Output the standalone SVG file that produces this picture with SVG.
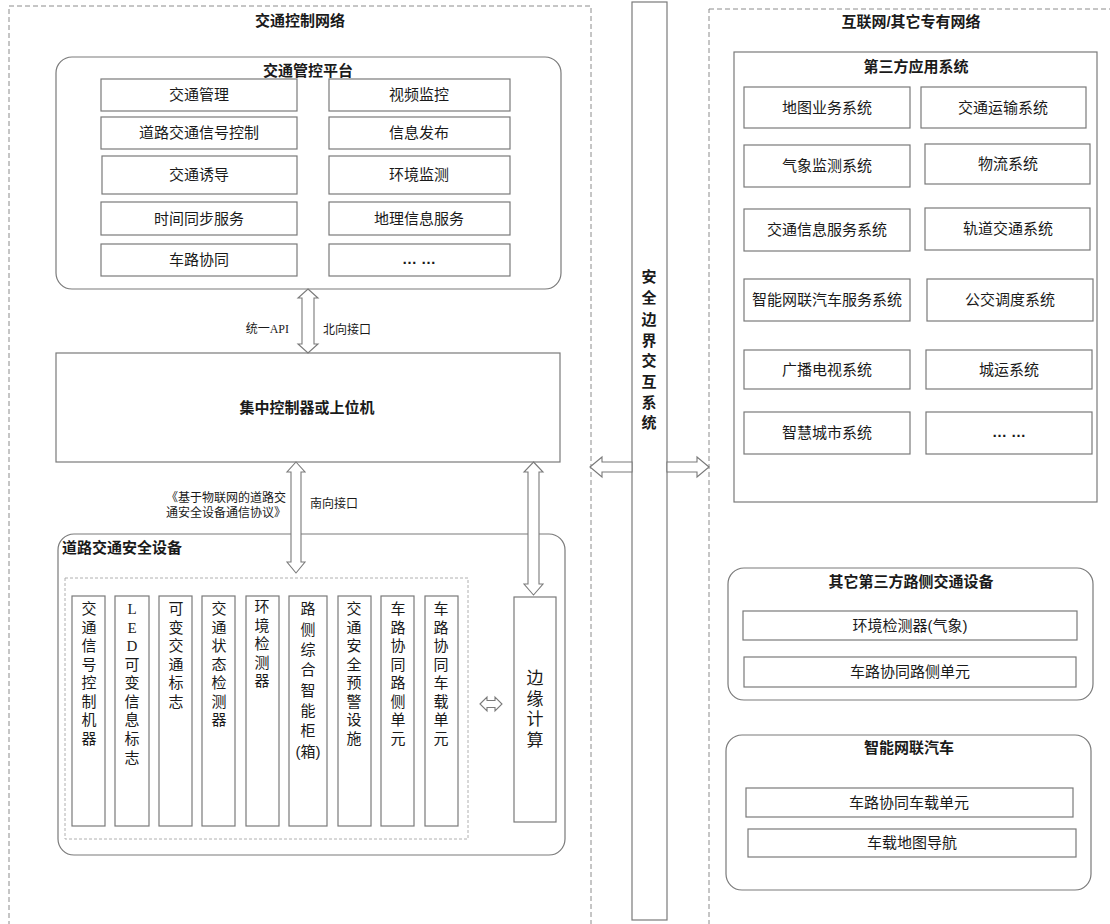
<svg xmlns="http://www.w3.org/2000/svg" width="1110" height="924" viewBox="0 0 1110 924">
<style>
text{font-family:"Liberation Sans","Noto Sans CJK SC",sans-serif;fill:#1a1a1a;font-size:15px}
.t{font-weight:bold;text-anchor:middle}
.c{text-anchor:middle}
.s{font-size:12px}
.serif{font-family:"Liberation Serif","Noto Sans CJK SC",serif}
.dash{fill:none;stroke:#8c8c8c;stroke-width:1;stroke-dasharray:5 3}
.dash2{fill:none;stroke:#b0b0b0;stroke-width:1;stroke-dasharray:3 2}
.box{fill:#fff;stroke:#7a7a7a;stroke-width:1.2}
.rbox{fill:#fff;stroke:#7a7a7a;stroke-width:1.2}
.arr{fill:#fff;stroke:#7a7a7a;stroke-width:1.1;stroke-linejoin:miter}
.v{font-size:15px;text-anchor:middle}
</style>
<rect width="1110" height="924" fill="#fff"/>

<g id="traffic-control-network">
<rect class="dash" x="9" y="6" width="582" height="930"/>
<text class="t" x="300" y="26">交通控制网络</text>
</g>

<g id="internet-network">
<rect class="dash" x="709" y="9" width="420" height="930"/>
<text class="t" x="911" y="27">互联网/其它专有网络</text>
</g>

<g id="platform">
<rect class="rbox" x="56" y="57" width="505" height="232" rx="16"/>
<text class="t" x="308" y="76">交通管控平台</text>
<rect class="box" x="101" y="79" width="196" height="32"/><text class="c" x="199" y="100">交通管理</text>
<rect class="box" x="329" y="79" width="181" height="32"/><text class="c" x="419" y="100">视频监控</text>
<rect class="box" x="101" y="117" width="196" height="32"/><text class="c" x="199" y="138">道路交通信号控制</text>
<rect class="box" x="329" y="117" width="181" height="32"/><text class="c" x="419" y="138">信息发布</text>
<rect class="box" x="102" y="156" width="195" height="38"/><text class="c" x="199" y="180">交通诱导</text>
<rect class="box" x="329" y="156" width="181" height="38"/><text class="c" x="419" y="180">环境监测</text>
<rect class="box" x="101" y="202" width="196" height="33"/><text class="c" x="199" y="224">时间同步服务</text>
<rect class="box" x="329" y="202" width="181" height="33"/><text class="c" x="419" y="224">地理信息服务</text>
<rect class="box" x="101" y="244" width="196" height="32"/><text class="c" x="199" y="265">车路协同</text>
<rect class="box" x="329" y="244" width="181" height="32"/><text class="c" x="419" y="264" style="font-weight:bold">… …</text>
</g>

<g id="controller">
<rect class="box" x="56" y="353" width="504" height="109"/>
<text class="t" x="307" y="413">集中控制器或上位机</text>
</g>

<g id="safety-devices">
<rect class="rbox" x="58" y="534" width="507" height="321" rx="16"/>
<text x="62" y="553" style="font-weight:bold">道路交通安全设备</text>
<rect class="dash2" x="65" y="578" width="403" height="261"/>
<rect class="box" x="72" y="596" width="33" height="230"/>
<rect class="box" x="115" y="596" width="34" height="230"/>
<rect class="box" x="159" y="596" width="33" height="230"/>
<rect class="box" x="202" y="596" width="33" height="230"/>
<rect class="box" x="246" y="596" width="33" height="230"/>
<rect class="box" x="289" y="596" width="38" height="230"/>
<rect class="box" x="338" y="596" width="33" height="230"/>
<rect class="box" x="381" y="596" width="33" height="230"/>
<rect class="box" x="425" y="596" width="33" height="230"/>
<text class="v"><tspan x="89" y="614">交</tspan><tspan x="89" y="632.5">通</tspan><tspan x="89" y="651">信</tspan><tspan x="89" y="669.5">号</tspan><tspan x="89" y="688">控</tspan><tspan x="89" y="706.5">制</tspan><tspan x="89" y="725">机</tspan><tspan x="89" y="743.5">器</tspan></text>
<text class="v"><tspan class="serif" x="132" y="614">L</tspan><tspan class="serif" x="132" y="632.5">E</tspan><tspan class="serif" x="132" y="651">D</tspan><tspan x="132" y="669.5">可</tspan><tspan x="132" y="688">变</tspan><tspan x="132" y="706.5">信</tspan><tspan x="132" y="725">息</tspan><tspan x="132" y="743.5">标</tspan><tspan x="132" y="763">志</tspan></text>
<text class="v"><tspan x="176" y="614">可</tspan><tspan x="176" y="632.5">变</tspan><tspan x="176" y="651">交</tspan><tspan x="176" y="669.5">通</tspan><tspan x="176" y="688">标</tspan><tspan x="176" y="706.5">志</tspan></text>
<text class="v"><tspan x="219" y="614">交</tspan><tspan x="219" y="632.5">通</tspan><tspan x="219" y="651">状</tspan><tspan x="219" y="669.5">态</tspan><tspan x="219" y="688">检</tspan><tspan x="219" y="706.5">测</tspan><tspan x="219" y="725">器</tspan></text>
<text class="v"><tspan x="262" y="612">环</tspan><tspan x="262" y="630.5">境</tspan><tspan x="262" y="649">检</tspan><tspan x="262" y="667.5">测</tspan><tspan x="262" y="686">器</tspan></text>
<text class="v"><tspan x="308" y="614">路</tspan><tspan x="308" y="635">侧</tspan><tspan x="308" y="655">综</tspan><tspan x="308" y="675">合</tspan><tspan x="308" y="696">智</tspan><tspan x="308" y="716">能</tspan><tspan x="308" y="736">柜</tspan><tspan x="308" y="757">(箱)</tspan></text>
<text class="v"><tspan x="354" y="614">交</tspan><tspan x="354" y="632.5">通</tspan><tspan x="354" y="651">安</tspan><tspan x="354" y="669.5">全</tspan><tspan x="354" y="688">预</tspan><tspan x="354" y="706.5">警</tspan><tspan x="354" y="725">设</tspan><tspan x="354" y="743.5">施</tspan></text>
<text class="v"><tspan x="398" y="614">车</tspan><tspan x="398" y="632.5">路</tspan><tspan x="398" y="651">协</tspan><tspan x="398" y="669.5">同</tspan><tspan x="398" y="688">路</tspan><tspan x="398" y="706.5">侧</tspan><tspan x="398" y="725">单</tspan><tspan x="398" y="743.5">元</tspan></text>
<text class="v"><tspan x="441" y="614">车</tspan><tspan x="441" y="632.5">路</tspan><tspan x="441" y="651">协</tspan><tspan x="441" y="669.5">同</tspan><tspan x="441" y="688">车</tspan><tspan x="441" y="706.5">载</tspan><tspan x="441" y="725">单</tspan><tspan x="441" y="743.5">元</tspan></text>
</g>

<g id="edge-computing">
<rect class="box" x="514" y="597" width="42" height="225"/>
<text class="v" style="font-size:17px"><tspan x="535" y="684">边</tspan><tspan x="535" y="704.5">缘</tspan><tspan x="535" y="725">计</tspan><tspan x="535" y="745.5">算</tspan></text>
</g>

<g id="security-boundary">
<rect class="box" x="632" y="2" width="35" height="918"/>
<text class="v" style="font-weight:bold"><tspan x="649" y="282">安</tspan><tspan x="649" y="303">全</tspan><tspan x="649" y="324.5">边</tspan><tspan x="649" y="345.5">界</tspan><tspan x="649" y="366">交</tspan><tspan x="649" y="387">互</tspan><tspan x="649" y="407.5">系</tspan><tspan x="649" y="428">统</tspan></text>
</g>

<g id="third-party-apps">
<rect class="box" x="734" y="52" width="363" height="450"/>
<text class="t" x="916" y="72">第三方应用系统</text>
<rect class="box" x="744" y="87" width="166" height="41"/><text class="c" x="827" y="113">地图业务系统</text>
<rect class="box" x="921" y="87" width="165" height="41"/><text class="c" x="1003" y="113">交通运输系统</text>
<rect class="box" x="744" y="145" width="166" height="42"/><text class="c" x="827" y="171">气象监测系统</text>
<rect class="box" x="925" y="144" width="165" height="40"/><text class="c" x="1008" y="169">物流系统</text>
<rect class="box" x="744" y="209" width="166" height="42"/><text class="c" x="827" y="235">交通信息服务系统</text>
<rect class="box" x="925" y="208" width="165" height="42"/><text class="c" x="1008" y="234">轨道交通系统</text>
<rect class="box" x="744" y="279" width="166" height="42"/><text class="c" x="827" y="305">智能网联汽车服务系统</text>
<rect class="box" x="927" y="279" width="166" height="42"/><text class="c" x="1010" y="305">公交调度系统</text>
<rect class="box" x="744" y="350" width="166" height="39"/><text class="c" x="827" y="375">广播电视系统</text>
<rect class="box" x="926" y="350" width="166" height="39"/><text class="c" x="1009" y="375">城运系统</text>
<rect class="box" x="744" y="412" width="166" height="42"/><text class="c" x="827" y="438">智慧城市系统</text>
<rect class="box" x="926" y="412" width="166" height="42"/><text class="c" x="1009" y="437" style="font-weight:bold">… …</text>
</g>

<g id="third-party-roadside">
<rect class="rbox" x="728" y="568" width="365" height="132" rx="16"/>
<text class="t" x="911" y="587">其它第三方路侧交通设备</text>
<rect class="box" x="743" y="611" width="334" height="29"/><text class="c" x="910" y="631">环境检测器(气象)</text>
<rect class="box" x="744" y="657" width="332" height="30"/><text class="c" x="910" y="677">车路协同路侧单元</text>
</g>

<g id="connected-vehicle">
<rect class="rbox" x="726" y="735" width="365" height="155" rx="16"/>
<text class="t" x="909" y="753">智能网联汽车</text>
<rect class="box" x="746" y="788" width="327" height="29"/><text class="c" x="909" y="808">车路协同车载单元</text>
<rect class="box" x="748" y="829" width="328" height="28"/><text class="c" x="912" y="848">车载地图导航</text>
</g>

<g id="connectors">
<path class="arr" d="M308,289 L318,298 L314,298 L314,344 L318,344 L308,353 L298,344 L302,344 L302,298 L298,298 Z"/>
<path class="arr" d="M296,462 L305,472 L301,472 L301,562 L305,562 L296,573 L287,562 L291,562 L291,472 L287,472 Z"/>
<path class="arr" d="M533.5,462 L543,472 L539,472 L539,584 L543,584 L533.5,595 L524,584 L528,584 L528,472 L524,472 Z"/>
<path class="arr" d="M480,704 L487,697 L487,700.5 L495,700.5 L495,697 L502,704 L495,711 L495,707.5 L487,707.5 L487,711 Z"/>
<path class="arr" d="M590,467 L602,457 L602,462 L632,462 L632,472 L602,472 L602,477 Z"/>
<path class="arr" d="M709,467 L697,457 L697,462 L667,462 L667,472 L697,472 L697,477 Z"/>
<text class="s" x="289" y="333" text-anchor="end">统一<tspan class="serif">API</tspan></text>
<text class="s" x="323" y="334">北向接口</text>
<text class="s" x="286" y="502" text-anchor="end">《基于物联网的道路交</text>
<text class="s" x="286" y="517" text-anchor="end">通安全设备通信协议》</text>
<text class="s" x="310" y="508">南向接口</text>
</g>
</svg>
